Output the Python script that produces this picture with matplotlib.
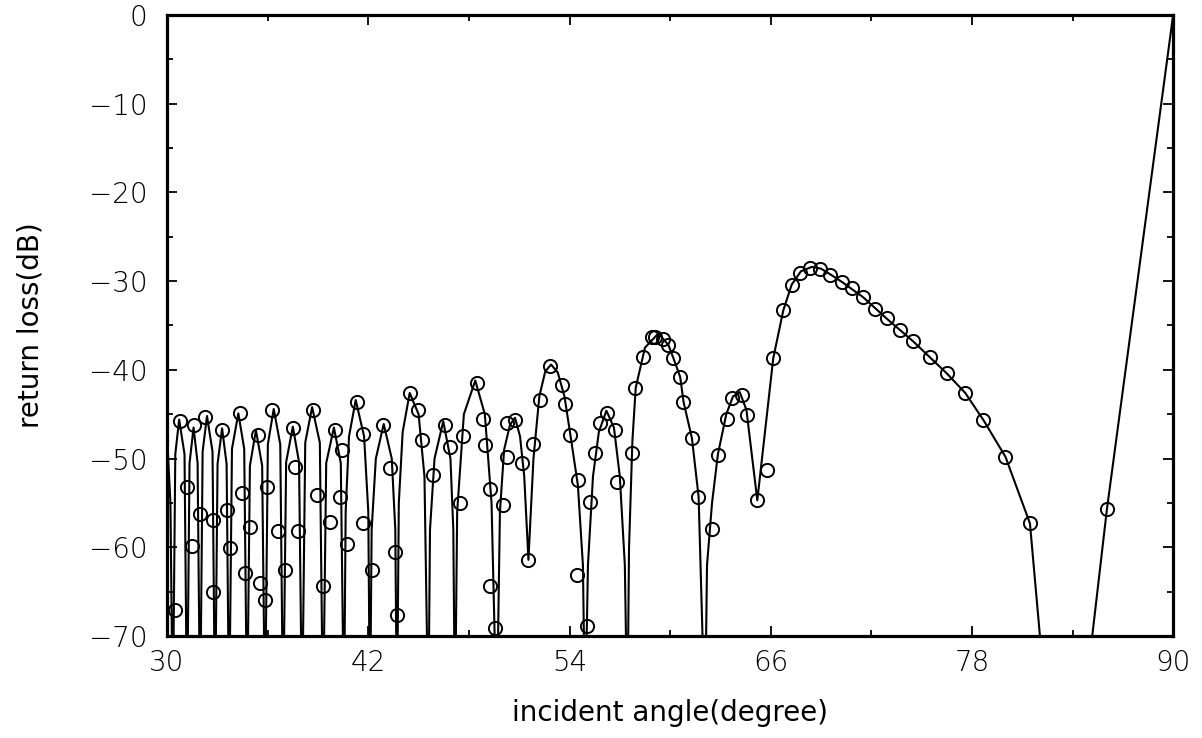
import numpy as np
import matplotlib.pyplot as plt
from matplotlib.ticker import MultipleLocator

# simulated return loss (line); nulls below -70 are clipped
line_x = [30.00, 30.20, 30.34,
          30.49, 30.72, 31.04, 31.19,
          31.34, 31.58, 31.82, 31.97,
          32.12, 32.38, 32.71, 32.86,
          33.01, 33.28, 33.55, 33.70,
          33.87, 34.25, 34.60, 34.77,
          34.94, 35.30, 35.67, 35.84,
          36.01, 36.36, 36.75, 36.92,
          37.10, 37.50, 37.87, 38.05,
          38.24, 38.65, 39.11, 39.30,
          39.49, 39.95, 40.36, 40.55,
          40.65, 40.85, 41.25, 41.75, 42.00, 42.10,
          42.20, 42.45, 42.92, 43.40, 43.61, 43.71,
          43.82, 44.05, 44.47, 45.00, 45.35, 45.58,
          45.68, 45.95, 46.47, 46.90, 47.07, 47.17,
          47.30, 47.70, 48.38, 48.95, 49.35, 49.66,
          49.85, 50.10, 50.45, 50.75, 51.05, 51.30, 51.55,
          51.85, 52.20, 52.55, 52.90, 53.30, 53.70, 54.05, 54.50, 54.80, 54.93,
          55.10, 55.40, 55.75, 56.20, 56.65, 57.00, 57.30, 57.45,
          57.55, 57.75, 57.95, 58.50, 59.30, 59.90, 60.20, 60.60, 60.80, 61.30, 61.70, 62.08,
          62.20, 62.50, 62.85, 63.35, 63.75, 64.15, 64.55, 65.20,
          66.15, 66.75, 67.25, 67.80, 68.45, 69.00, 69.60, 70.25, 71.50, 72.90,
          74.50, 76.50, 77.60, 78.70, 80.00, 81.46, 82.15,
          85.05, 86.05, 90.00]
line_y = [-47.5, -55.0, -80,
          -49.5, -45.6, -49.5, -80,
          -50.5, -46.5, -50.5, -80,
          -49.2, -45.2, -49.2, -80,
          -50.6, -46.6, -50.6, -80,
          -48.9, -44.9, -48.9, -80,
          -50.8, -46.8, -50.8, -80,
          -48.4, -44.4, -48.4, -80,
          -50.4, -46.4, -50.4, -80,
          -48.2, -44.2, -48.2, -80,
          -50.5, -46.5, -50.5, -80,
          -56.0, -47.5, -43.4, -47.5, -56.0, -80,
          -58.0, -50.0, -46.1, -50.0, -58.0, -80,
          -55.0, -47.0, -42.6, -45.0, -52.0, -80,
          -58.0, -50.0, -45.8, -50.0, -58.0, -80,
          -56.0, -45.0, -41.2, -45.0, -55.0, -80,
          -56.0, -49.0, -46.2, -45.4, -47.5, -52.0, -61.4,
          -50.0, -43.0, -40.2, -39.4, -40.3, -43.0, -47.3, -53.0, -62.0, -80,
          -62.0, -52.0, -47.0, -44.6, -46.5, -52.0, -62.0, -80,
          -60.0, -48.0, -42.0, -37.5, -35.9, -37.2, -38.7, -40.8, -43.6, -47.7, -54.3, -80,
          -62.0, -55.0, -49.5, -45.0, -43.0, -42.5, -44.5, -54.7,
          -38.7, -33.3, -30.4, -28.9, -28.4, -28.6, -29.3, -30.1, -31.8, -34.2,
          -36.8, -40.4, -42.6, -45.7, -49.8, -57.3, -72,
          -72, -55.7, 0.0]

# measured points (circles)
circ_x = [30.78, 30.48, 31.17, 31.47, 31.60, 32.27, 31.97, 32.76, 32.74, 33.26,
          33.76, 33.56, 34.35, 34.45, 34.95, 34.65, 35.45, 35.55, 35.84, 36.24,
          35.94, 36.64, 37.04, 37.53, 37.63, 37.83, 38.72, 38.93, 40.02, 39.32,
          39.72, 40.42, 40.32, 40.72, 41.31, 41.71, 41.71, 42.21, 42.90, 43.30,
          43.60, 43.70, 44.49, 44.99, 45.19, 45.88, 46.58, 46.88, 47.47, 47.67,
          48.47, 48.86, 48.96, 49.26, 50.05, 49.26, 49.56, 50.26, 50.26, 50.75,
          51.15, 51.55, 51.84, 52.24, 52.84, 53.53, 53.73, 54.03, 54.53, 55.22,
          54.43, 55.03, 55.52, 55.82, 56.22, 56.71, 56.81, 57.71, 57.91, 58.40,
          58.90, 59.10, 59.59, 59.89, 60.19, 60.59, 60.79, 61.29, 61.68, 62.48,
          62.87, 63.37, 63.67, 64.27, 64.57, 65.16, 65.76, 66.15, 66.75, 67.25,
          67.75, 68.34, 68.94, 69.53, 70.23, 70.83, 71.52, 72.22, 72.92, 73.71,
          74.50, 75.50, 76.49, 77.58, 78.68, 79.97, 81.46, 86.03]
circ_y = [-45.8, -67.1, -53.2, -59.9, -46.2, -45.3, -56.2, -65.0, -56.9, -46.8,
          -60.1, -55.8, -44.9, -53.9, -57.7, -62.9, -47.3, -64.0, -65.9, -44.5,
          -53.2, -58.1, -62.6, -46.6, -50.9, -58.2, -44.5, -54.1, -46.8, -64.3,
          -57.1, -49.0, -54.3, -59.6, -43.6, -47.2, -57.3, -62.6, -46.2, -51.1,
          -60.5, -67.6, -42.6, -44.5, -47.9, -51.9, -46.2, -48.7, -55.0, -47.5,
          -41.5, -45.5, -48.5, -53.4, -55.2, -64.4, -69.1, -49.8, -46.0, -45.7,
          -50.5, -61.4, -48.3, -43.4, -39.6, -41.7, -43.8, -47.3, -52.4, -54.9,
          -63.1, -68.8, -49.4, -46.0, -44.9, -46.8, -52.6, -49.4, -42.1, -38.5,
          -36.3, -36.3, -36.5, -37.2, -38.7, -40.8, -43.6, -47.7, -54.3, -57.9,
          -49.6, -45.5, -43.2, -42.8, -45.1, -54.7, -51.3, -38.7, -33.3, -30.4,
          -29.1, -28.5, -28.6, -29.3, -30.1, -30.8, -31.8, -33.1, -34.2, -35.5,
          -36.8, -38.5, -40.4, -42.6, -45.7, -49.8, -57.2, -55.7]

xticks = [30, 42, 54, 66, 78, 90]
yticks = [0, -10, -20, -30, -40, -50, -60, -70]

plt.rcParams['font.family'] = 'DejaVu Sans'
plt.rcParams['font.weight'] = 'light'

fig = plt.figure(figsize=(12.02, 7.38), dpi=100)
ax = fig.add_axes([0.139, 0.138, 0.837, 0.842])

ax.plot(line_x, line_y, color='black', lw=1.5, zorder=3)
ax.plot(circ_x, circ_y, linestyle='none', marker='o', markersize=9.5,
        markerfacecolor='none', markeredgecolor='black', markeredgewidth=1.4, zorder=4)

ax.set_xlim(30, 90)
ax.set_ylim(-70, 0)
ax.set_xticks(xticks)
ax.set_xticklabels([str(t) for t in xticks])
ax.set_yticks(yticks)
ax.set_yticklabels(['0' if t == 0 else '\u2212' + str(-t) for t in yticks])
ax.xaxis.set_minor_locator(MultipleLocator(6))
ax.yaxis.set_minor_locator(MultipleLocator(5))

ax.tick_params(which='both', direction='in', top=True, right=True, width=1.3)
ax.tick_params(which='major', length=7, labelsize=20)
ax.tick_params(axis='x', which='major', pad=9)
ax.tick_params(axis='y', which='major', pad=14)
ax.tick_params(which='minor', length=4)
for sp in ax.spines.values():
    sp.set_linewidth(2.3)

ax.set_xlabel('incident angle(degree)', fontsize=20, labelpad=16)
ax.set_ylabel('return loss(dB)', fontsize=20, labelpad=32)

fig.savefig('out.png', dpi=100)
